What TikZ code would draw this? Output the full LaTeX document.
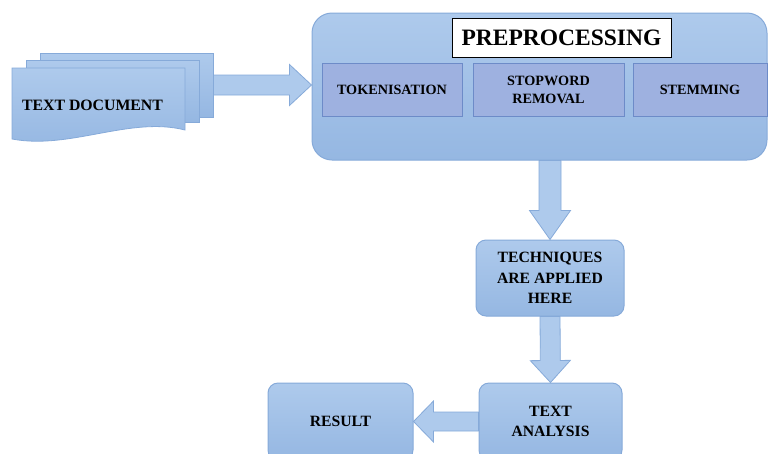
\documentclass[tikz,border=0pt]{standalone}
\usepackage{fontspec}
\setmainfont{Liberation Serif}
\usetikzlibrary{calc,decorations.pathreplacing}
\definecolor{bfill}{HTML}{AECAEC}
\definecolor{bfillb}{HTML}{95B7E2}
\definecolor{bline}{HTML}{86AAD9}
\definecolor{sfill}{HTML}{9EB1E0}
\definecolor{sline}{HTML}{6D8BC8}
\tikzset{
  box/.style={draw=bline, line width=1pt, rounded corners=10pt, top color=bfill, bottom color=bfillb,
    font=\bfseries\fontsize{15.7}{20.5}\selectfont, align=center, inner sep=0pt},
  subbox/.style={draw=sline, line width=0.8pt, fill=sfill, inner sep=0pt,
    font=\bfseries\fontsize{14.2}{18}\selectfont, align=center},
  sheet/.style={draw=bline, line width=0.8pt, top color=bfill, bottom color=bfillb, inner sep=0pt},
  arrowlook/.style={draw=bline, line width=0.8pt, fill=bfill},
  blockarrow/.style n args={3}{decorate, decoration={show path construction, lineto code={
      \coordinate (ba-s) at (\tikzinputsegmentfirst);
      \coordinate (ba-e) at (\tikzinputsegmentlast);
      \coordinate (ba-n) at ($(ba-e)!#3!(ba-s)$);
      \filldraw[arrowlook] ($(ba-s)!#1!90:(ba-e)$) -- ($(ba-n)!#1!90:(ba-e)$)
        -- ($(ba-n)!#2!90:(ba-e)$) -- (ba-e) -- ($(ba-n)!#2!-90:(ba-e)$)
        -- ($(ba-n)!#1!-90:(ba-e)$) -- ($(ba-s)!#1!-90:(ba-e)$) -- cycle;
    }}}
}
\begin{document}
\begin{tikzpicture}[x=1pt, y=-1pt]
\useasboundingbox (0,0) rectangle (768,453);
% text document stack
\node[sheet, minimum width=173pt, minimum height=64pt] (doc3) at (126.5,85) {};
\node[sheet, minimum width=173pt, minimum height=62pt] (doc2) at (112.5,91) {};
\path[sheet] (12,68) -- (185,68) -- (185,130)
  .. controls (130,116) and (70,150) .. (12,139) -- cycle;
\node[font=\bfseries\fontsize{15.8}{18}\selectfont] (doc) at (92.5,105) {TEXT DOCUMENT};
% preprocessing
\node[box, rounded corners=20pt, minimum width=455pt, minimum height=147pt] (pre) at (539.5,86.5) {};
\node[draw=black, line width=0.8pt, fill=white, minimum width=219pt, minimum height=39pt, inner sep=0pt,
  font=\bfseries\fontsize{23.5}{26}\selectfont] (title) at (561.5,37.5) {PREPROCESSING};
\node[subbox, minimum width=140pt, minimum height=53pt] (tok) at (392,89.5) {TOKENISATION};
\node[subbox, minimum width=151pt, minimum height=53pt] (stop) at (548.5,89.5) {STOPWORD\\REMOVAL};
\node[subbox, minimum width=134pt, minimum height=53pt] (stem) at (700,89.5) {STEMMING};
% lower boxes
\node[box, minimum width=148pt, minimum height=76pt] (tech) at (550,278) {TECHNIQUES\\ARE APPLIED\\HERE};
\node[box, minimum width=143pt, minimum height=77pt] (ta) at (550.5,421.5) {TEXT\\ANALYSIS};
\node[box, minimum width=145pt, minimum height=77pt] (res) at (340.5,421.5) {RESULT};
% arrows
\path[blockarrow={10pt}{20.5pt}{22pt}] (doc3.east) -- (doc3.east -| pre.west);
\path[blockarrow={11pt}{20.5pt}{29pt}] (tech.north |- pre.south) -- (tech.north);
\path[blockarrow={10pt}{20pt}{22pt}] (tech.south) -- (ta.north);
\path[blockarrow={9.5pt}{20.5pt}{20pt}] (ta.west) -- (res.east);
\end{tikzpicture}
\end{document}
